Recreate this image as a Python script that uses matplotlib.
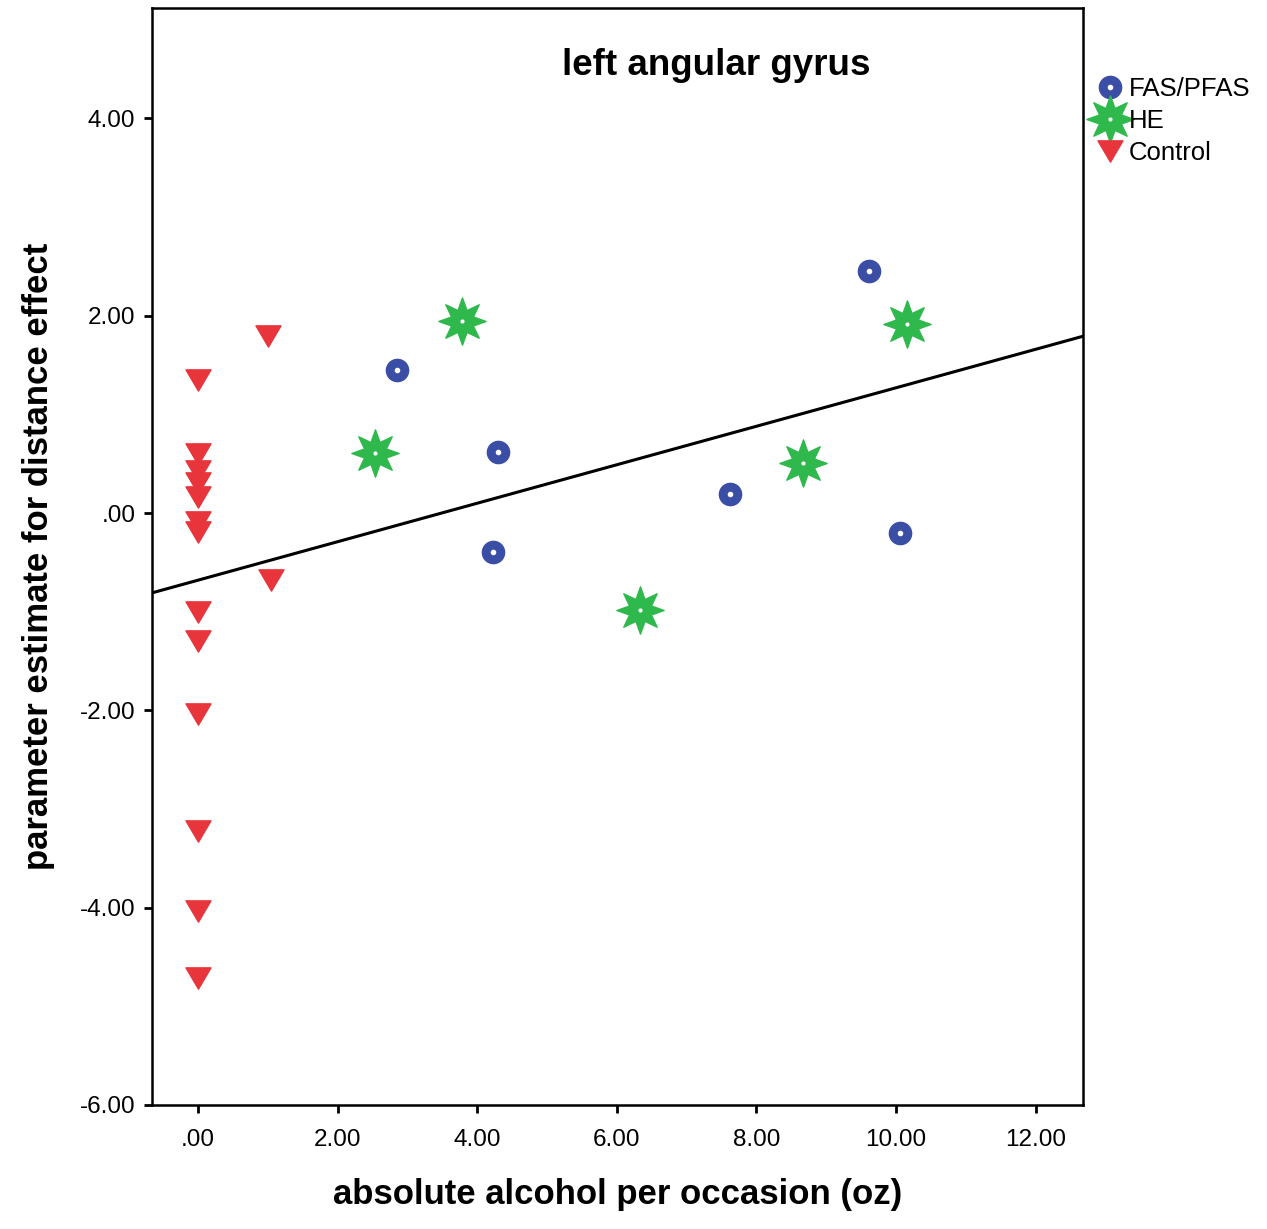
import matplotlib.pyplot as plt
import numpy as np
from matplotlib.path import Path

plt.rcParams["font.family"] = ["Liberation Sans", "DejaVu Sans"]

# FAS/PFAS
fas_x = [2.85, 4.30, 4.23, 7.62, 9.61, 10.06]
fas_y = [1.45, 0.62, -0.39, 0.19, 2.45, -0.20]

# HE
he_x = [3.78, 2.54, 6.33, 8.67, 10.16]
he_y = [1.95, 0.61, -0.98, 0.51, 1.92]

# Control
ctrl_x = [0, 0, 0, 0, 0, 0, 0, 0, 0, 0, 0, 0, 0, 1.00, 1.05]
ctrl_y = [1.35, 0.60, 0.43, 0.31, 0.16, -0.09, -0.19, -1.00, -1.30, -2.04,
          -3.22, -4.03, -4.71, 1.79, -0.68]

# fit line
fit_intercept = -0.68
fit_slope = 0.195

xticks = [0, 2, 4, 6, 8, 10, 12]
yticks = [-6, -4, -2, 0, 2, 4]


def fmt(v):
    s = f"{v:.2f}"
    return ".00" if v == 0 else s


# 8-pointed star marker
n = 8
ang = np.linspace(0, 2 * np.pi, 2 * n, endpoint=False) + np.pi / 2
rad = np.where(np.arange(2 * n) % 2 == 0, 1.0, 0.5)
verts = np.column_stack([rad * np.cos(ang), rad * np.sin(ang)])
verts = np.vstack([verts, verts[0]])
star = Path(verts, [Path.MOVETO] + [Path.LINETO] * (2 * n - 1) + [Path.CLOSEPOLY])

tri = Path([(-1, 0.85), (1, 0.85), (0, -0.85), (-1, 0.85)],
           [Path.MOVETO, Path.LINETO, Path.LINETO, Path.CLOSEPOLY])

blue = "#3a4ea6"
green = "#2fb84c"
red = "#e8343b"

fig = plt.figure(figsize=[12.67, 12.29], dpi=100)
ax = fig.add_axes([0.12, 0.1009, 0.7348, 0.8926])

xs = np.array([-0.66, 12.68])
ax.plot(xs, fit_intercept + fit_slope * xs, color="black", lw=2.2, zorder=1)

ax.plot(fas_x, fas_y, ls="none", marker="o", ms=16, color=blue, zorder=3)
ax.plot(fas_x, fas_y, ls="none", marker="o", ms=3, color="white", zorder=4)
ax.plot(he_x, he_y, ls="none", marker=star, ms=34, color=green, zorder=3)
ax.plot(he_x, he_y, ls="none", marker="o", ms=2, color="white", zorder=4)
ax.plot(ctrl_x, ctrl_y, ls="none", marker=tri, ms=18, color=red, zorder=3)

ax.set_xlim(-0.66, 12.68)
ax.set_ylim(-6, 5.12)
ax.set_xticks(xticks)
ax.set_xticklabels([fmt(v) for v in xticks])
ax.set_yticks(yticks)
ax.set_yticklabels([fmt(v) for v in yticks])
ax.tick_params(direction="out", length=6, width=2, labelsize=17.5,
               top=False, right=False)
ax.tick_params(axis="x", pad=11)
ax.tick_params(axis="y", pad=6)
for s in ax.spines.values():
    s.set_linewidth(1.8)

ax.set_xlabel("absolute alcohol per occasion (oz)", fontsize=25, fontweight="bold", labelpad=20)
ax.set_ylabel("parameter estimate for distance effect", fontsize=25, fontweight="bold", labelpad=18)
ax.text(0.606, 0.948, "left angular gyrus", transform=ax.transAxes, ha="center", va="center",
        fontsize=26.5, fontweight="bold")

# legend
h1 = ax.plot([], [], ls="none", marker="o", ms=16, color=blue)[0]
h1b = ax.plot([], [], ls="none", marker="o", ms=3, color="white")[0]
h2 = ax.plot([], [], ls="none", marker=star, ms=34, color=green)[0]
h2b = ax.plot([], [], ls="none", marker="o", ms=2, color="white")[0]
h3 = ax.plot([], [], ls="none", marker=tri, ms=18, color=red)[0]
fig.legend([(h1, h1b), (h2, h2b), h3], ["FAS/PFAS", "HE", "Control"],
           loc="upper left", bbox_to_anchor=(0.868, 0.937), frameon=False,
           fontsize=18.5, handlelength=0.8, handletextpad=0.32, labelspacing=0.3,
           borderpad=0, borderaxespad=0)

fig.savefig("out.png", dpi=100)
